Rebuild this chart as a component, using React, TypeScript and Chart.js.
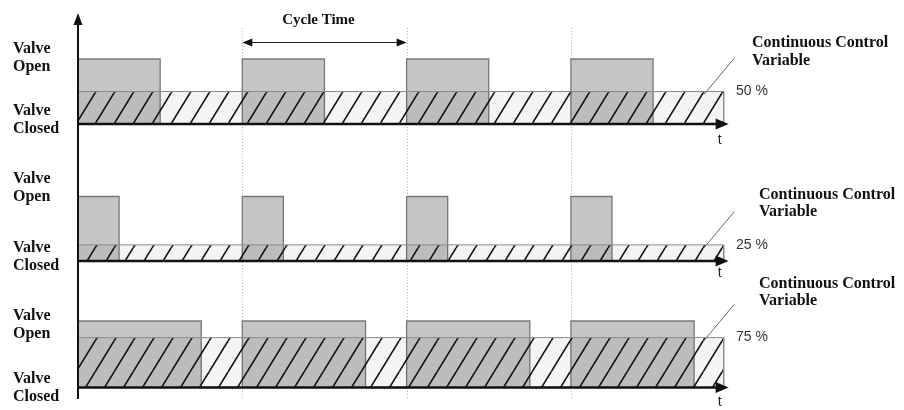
import React, { useEffect, useRef } from "react";
import { Chart, registerables } from "chart.js";

Chart.register(...registerables);

// ---------- data ----------
const CYCLE_STARTS = [0, 1, 2, 3]; // start of each PWM cycle (in cycle units)
const DUTY = [0.5, 0.25, 0.75]; // continuous control variable per panel (fraction)
const CONTROL_LABELS = ["50 %", "25 %", "75 %"];
const CLOSED = 0;
const OPEN = 1;
const T_END = 3.93; // end of the hatched control band
const ARROW_END = 3.96; // tip of the time-axis arrow
const PERIOD_LINES = [1, 2, 3];
const OPEN_LABEL = ["Valve", "Open"];
const CLOSED_LABEL = ["Valve", "Closed"];
const ANNOT_TEXT = ["Continuous Control", "Variable"];
const CYCLE_TEXT = "Cycle Time";
const AXIS_T = "t";

// ---------- layout ----------
const W = 904;
const H = 410;
const X0_PX = 78;
const CYCLE_PX = 164.3;
const PANEL_BASE_PX = [124, 261, 387.5];
const PANEL_UNIT_PX = [65, 64.5, 66.5];
const OPEN_LABEL_Y = [[53, 71], [183, 201], [320, 338]];
const CLOSED_LABEL_Y = [[115, 133], [252, 270], [383, 401]];
const ANNOT_POS = [[752, 47, 65], [759, 199, 216], [759, 288, 305]];
const T_LABEL_Y = [140, 273, 402];
const CYCLE_ARROW_Y = 42;

const SERIF = '"Liberation Serif", "Times New Roman", serif';
const SANS = '"Liberation Sans", Arial, sans-serif';

function makeHatch(): CanvasPattern | string {
  const c = document.createElement("canvas");
  const w = 19;
  const h = 31;
  c.width = w;
  c.height = h;
  const g = c.getContext("2d");
  if (!g) return "rgba(0,0,0,0.2)";
  g.fillStyle = "rgba(0,0,0,0.045)";
  g.fillRect(0, 0, w, h);
  g.strokeStyle = "#111";
  g.lineWidth = 1.6;
  for (const off of [-w, 0, w]) {
    g.beginPath();
    g.moveTo(off, h);
    g.lineTo(off + w, 0);
    g.stroke();
  }
  const pat = g.createPattern(c, "repeat");
  return pat || "rgba(0,0,0,0.2)";
}

function pulsePoints(duty: number) {
  const pts: { x: number; y: number }[] = [];
  CYCLE_STARTS.forEach((s) => {
    pts.push({ x: s, y: CLOSED });
    pts.push({ x: s, y: OPEN });
    pts.push({ x: s + duty, y: OPEN });
    pts.push({ x: s + duty, y: CLOSED });
  });
  return pts;
}

const deco = {
  id: "deco",
  beforeDatasetsDraw(chart: any) {
    const ctx = chart.ctx;
    const xs = chart.scales.x;
    ctx.save();
    ctx.strokeStyle = "#b5b5b5";
    ctx.lineWidth = 1;
    ctx.setLineDash([1, 2]);
    PERIOD_LINES.forEach((v) => {
      const px = Math.round(xs.getPixelForValue(v)) + 0.5;
      ctx.beginPath();
      ctx.moveTo(px, 28);
      ctx.lineTo(px, 398);
      ctx.stroke();
    });
    ctx.restore();
  },
  afterDatasetsDraw(chart: any) {
    const ctx = chart.ctx;
    const xs = chart.scales.x;
    ctx.save();
    // vertical axis with arrow
    const ax = xs.getPixelForValue(0);
    ctx.strokeStyle = "#111";
    ctx.fillStyle = "#111";
    ctx.lineWidth = 2;
    ctx.beginPath();
    ctx.moveTo(ax, 399);
    ctx.lineTo(ax, 22);
    ctx.stroke();
    ctx.beginPath();
    ctx.moveTo(ax, 13);
    ctx.lineTo(ax - 4.5, 25);
    ctx.lineTo(ax + 4.5, 25);
    ctx.closePath();
    ctx.fill();

    DUTY.forEach((d, p) => {
      const ys = chart.scales["y" + p];
      const by = ys.getPixelForValue(CLOSED);
      const tip = xs.getPixelForValue(ARROW_END);
      // time axis arrowhead
      ctx.fillStyle = "#111";
      ctx.beginPath();
      ctx.moveTo(tip, by);
      ctx.lineTo(tip - 13, by - 5.5);
      ctx.lineTo(tip - 13, by + 5.5);
      ctx.closePath();
      ctx.fill();
      // t label
      ctx.font = `14px ${SANS}`;
      ctx.fillStyle = "#222";
      ctx.textAlign = "center";
      ctx.textBaseline = "middle";
      ctx.fillText(AXIS_T, tip - 9, T_LABEL_Y[p]);

      // leader line + percent label
      const ly = ys.getPixelForValue(d);
      const lx = xs.getPixelForValue(3.81);
      ctx.strokeStyle = "#666";
      ctx.lineWidth = 1;
      ctx.beginPath();
      ctx.moveTo(lx, ly + 3);
      ctx.lineTo(lx + 30, ly - 33);
      ctx.stroke();
      ctx.font = `14px ${SANS}`;
      ctx.fillStyle = "#333";
      ctx.textAlign = "left";
      ctx.fillText(CONTROL_LABELS[p], 736, ly);

      // annotation text
      ctx.font = `bold 16px ${SERIF}`;
      ctx.fillStyle = "#111";
      ctx.textBaseline = "alphabetic";
      const [tx, b1, b2] = ANNOT_POS[p];
      ctx.fillText(ANNOT_TEXT[0], tx, b1);
      ctx.fillText(ANNOT_TEXT[1], tx, b2);

      // valve labels
      ctx.font = `bold 16px ${SERIF}`;
      ctx.fillText(OPEN_LABEL[0], 13, OPEN_LABEL_Y[p][0]);
      ctx.fillText(OPEN_LABEL[1], 13, OPEN_LABEL_Y[p][1]);
      ctx.fillText(CLOSED_LABEL[0], 13, CLOSED_LABEL_Y[p][0]);
      ctx.fillText(CLOSED_LABEL[1], 13, CLOSED_LABEL_Y[p][1]);
    });

    // cycle time arrow
    const x1 = xs.getPixelForValue(PERIOD_LINES[0]);
    const x2 = xs.getPixelForValue(PERIOD_LINES[1]);
    const y = CYCLE_ARROW_Y;
    ctx.strokeStyle = "#222";
    ctx.fillStyle = "#111";
    ctx.lineWidth = 1;
    ctx.beginPath();
    ctx.moveTo(x1 + 4, y + 0.5);
    ctx.lineTo(x2 - 4, y + 0.5);
    ctx.stroke();
    ctx.beginPath();
    ctx.moveTo(x1, y + 0.5);
    ctx.lineTo(x1 + 10, y - 3.5);
    ctx.lineTo(x1 + 10, y + 4.5);
    ctx.closePath();
    ctx.fill();
    ctx.beginPath();
    ctx.moveTo(x2, y + 0.5);
    ctx.lineTo(x2 - 10, y - 3.5);
    ctx.lineTo(x2 - 10, y + 4.5);
    ctx.closePath();
    ctx.fill();
    ctx.font = `bold 15px ${SERIF}`;
    ctx.textAlign = "center";
    ctx.textBaseline = "alphabetic";
    ctx.fillText(CYCLE_TEXT, (x1 + x2) / 2 - 6, 24);
    ctx.restore();
  },
};

export default function App() {
  const ref = useRef<HTMLCanvasElement>(null);
  useEffect(() => {
    const canvas = ref.current;
    if (!canvas) return;
    const hatch = makeHatch();
    const datasets: any[] = [];
    DUTY.forEach((d, p) => {
      // hatched continuous control band
      datasets.push({
        type: "line",
        data: [
          { x: 0, y: d },
          { x: T_END, y: d },
          { x: T_END, y: CLOSED },
        ],
        yAxisID: "y" + p,
        borderColor: "#8a8a8a",
        borderWidth: 1,
        backgroundColor: hatch,
        fill: { value: CLOSED },
        pointRadius: 0,
        tension: 0,
        order: 1,
      });
      // valve pulses
      datasets.push({
        type: "line",
        data: pulsePoints(d),
        yAxisID: "y" + p,
        borderColor: "#777",
        borderWidth: 1.3,
        backgroundColor: "#c5c5c5",
        fill: { value: CLOSED },
        pointRadius: 0,
        tension: 0,
        borderJoinStyle: "miter",
        order: 2,
      });
      // time axis
      datasets.push({
        type: "line",
        data: [
          { x: 0, y: CLOSED },
          { x: ARROW_END - 0.05, y: CLOSED },
        ],
        yAxisID: "y" + p,
        borderColor: "#111",
        borderWidth: 2.5,
        fill: false,
        pointRadius: 0,
        order: 0,
      });
    });

    const scales: any = {
      x: {
        type: "linear",
        min: -X0_PX / CYCLE_PX,
        max: (W - X0_PX) / CYCLE_PX,
        display: false,
      },
    };
    DUTY.forEach((_, p) => {
      const max = PANEL_BASE_PX[p] / PANEL_UNIT_PX[p];
      scales["y" + p] = {
        type: "linear",
        position: "left",
        max,
        min: max - H / PANEL_UNIT_PX[p],
        display: false,
      };
    });

    const chart = new Chart(canvas, {
      type: "line",
      data: { datasets },
      options: {
        animation: false,
        responsive: false,
        devicePixelRatio: 1,
        events: [],
        layout: { padding: 0 },
        scales,
        plugins: {
          legend: { display: false },
          tooltip: { enabled: false },
          title: { display: false },
        },
      },
      plugins: [deco],
    } as any);
    return () => chart.destroy();
  }, []);

  return (
    <div style={{ position: "fixed", left: 0, top: 0, width: W, height: H, background: "#fff" }}>
      <canvas ref={ref} width={W} height={H} style={{ display: "block", width: W, height: H }} />
    </div>
  );
}
